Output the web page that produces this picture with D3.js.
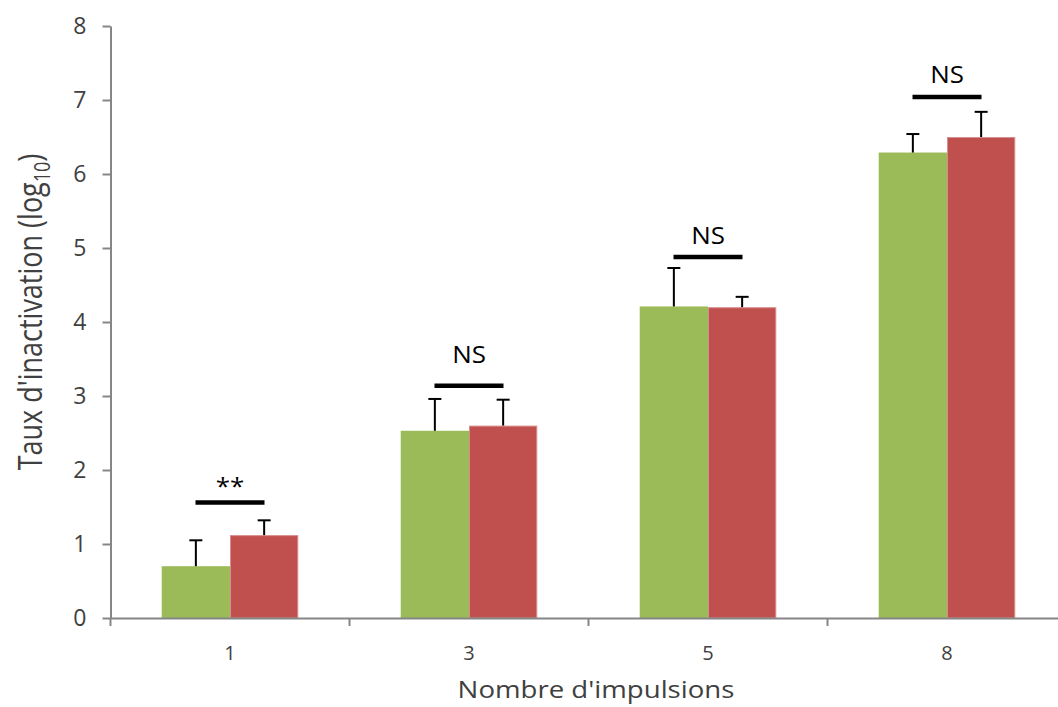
<!DOCTYPE html>
<html>
<head>
<meta charset="utf-8">
<script src="https://cdn.jsdelivr.net/npm/d3@7"></script>
<style>
  html, body { margin: 0; padding: 0; background: #fff; }
  svg { display: block; font-family: "Open Sans", sans-serif; }
</style>
</head>
<body>
<svg id="chart" width="1058" height="707"></svg>
<script>
// Number of pulses (x categories)
const categories = ["1", "3", "5", "8"];
// Inactivation rate (log10), two series
const seriesA = [0.70, 2.53, 4.21, 6.29];
const seriesB = [1.12, 2.60, 4.20, 6.50];
// Upper error bar ends
const errA = [1.05, 2.96, 4.73, 6.54];
const errB = [1.32, 2.95, 4.34, 6.84];
// Significance marks per group: bar level and label baseline level
const sigLabels = ["**", "NS", "NS", "NS"];
const sigLevels = [1.56, 3.14, 4.88, 7.04];
const sigTextLevels = [1.66, 3.44, 5.06, 7.23];
const yTicks = [0, 1, 2, 3, 4, 5, 6, 7, 8];

const colors = ["#9BBB59", "#C0504D"];
const edgeColors = [null, "#D88E8C"];
const textColor = "#404040";
const axisColor = "#868686";

const svg = d3.select("#chart");
const plotL = 110.5, plotR = 1066.5, plotT = 26, plotB = 618;

const x = d3.scaleBand().domain(categories).range([plotL, plotR]).paddingInner(0).paddingOuter(0);
const groupW = x.bandwidth() / 1.75;
const xs = d3.scaleBand().domain([0, 1]).range([0, groupW]);
const y = d3.scaleLinear().domain([0, 8]).range([plotB, plotT]);

const groups = categories.map((c, i) => ({
  c, i,
  vals: [seriesA[i], seriesB[i]],
  errs: [errA[i], errB[i]]
}));

const g = svg.append("g");

groups.forEach(d => {
  const gx = x(d.c) + (x.bandwidth() - groupW) / 2;
  // bars
  d.vals.forEach((v, k) => {
    const r = g.append("rect")
      .attr("x", gx + xs(k))
      .attr("y", y(v))
      .attr("width", xs.bandwidth())
      .attr("height", y(0) - y(v))
      .attr("fill", colors[k]);
    if (edgeColors[k]) {
      r.attr("x", gx + xs(k) + 0.5)
       .attr("y", y(v) + 0.5)
       .attr("width", xs.bandwidth() - 1)
       .attr("height", y(0) - y(v) - 0.5)
       .attr("stroke", edgeColors[k]).attr("stroke-width", 1);
    }
  });
  // error bars (upper only)
  d.errs.forEach((e, k) => {
    const cx = gx + xs(k) + xs.bandwidth() / 2;
    g.append("line")
      .attr("x1", cx).attr("x2", cx)
      .attr("y1", y(d.vals[k])).attr("y2", y(e))
      .attr("stroke", "#000").attr("stroke-width", 2);
    g.append("line")
      .attr("x1", cx - 6.5).attr("x2", cx + 6.5)
      .attr("y1", y(e)).attr("y2", y(e))
      .attr("stroke", "#000").attr("stroke-width", 2);
  });
  // significance bar and label
  const mid = x(d.c) + x.bandwidth() / 2;
  g.append("line")
    .attr("x1", mid - 34.5).attr("x2", mid + 34.5)
    .attr("y1", y(sigLevels[d.i])).attr("y2", y(sigLevels[d.i]))
    .attr("stroke", "#000").attr("stroke-width", 4.5);
  g.append("text")
    .attr("transform", `translate(${mid},${y(sigTextLevels[d.i])}) scale(1.08,1)`)
    .attr("text-anchor", "middle")
    .attr("font-size", 24)
    .attr("fill", "#000")
    .text(sigLabels[d.i]);
});

// Y axis
const yAxis = svg.append("g")
  .attr("transform", `translate(${plotL},0)`)
  .call(d3.axisLeft(y).tickValues(yTicks).tickFormat(d3.format("d")).tickSize(8).tickSizeOuter(0).tickPadding(16));
yAxis.select(".domain").attr("stroke", axisColor).attr("stroke-width", 2);
yAxis.selectAll(".tick line").attr("stroke", axisColor).attr("stroke-width", 2);
yAxis.selectAll(".tick text").attr("fill", textColor).attr("font-size", 23).attr("font-family", "Open Sans, sans-serif");

// X axis
const xAxis = svg.append("g")
  .attr("transform", `translate(0,${plotB})`)
  .call(d3.axisBottom(x).tickSize(0).tickSizeOuter(0).tickPadding(28));
xAxis.select(".domain").attr("stroke", axisColor).attr("stroke-width", 2);
xAxis.selectAll(".tick text").attr("fill", textColor).attr("font-size", 20).attr("font-family", "Open Sans, sans-serif");
// category boundary ticks
xAxis.selectAll(".bound")
  .data(categories.map(c => x(c)).concat([plotR]))
  .enter().append("line")
  .attr("x1", d => d).attr("x2", d => d)
  .attr("y1", 0).attr("y2", 8)
  .attr("stroke", axisColor).attr("stroke-width", 2);

// Axis titles
svg.append("text")
  .attr("transform", "translate(596,698) scale(1.15,1)")
  .attr("text-anchor", "middle")
  .attr("font-size", 24)
  .attr("fill", textColor)
  .text("Nombre d'impulsions");

const yt = svg.append("text")
  .attr("transform", "translate(42,312) rotate(-90) scale(1,1.2)")
  .attr("text-anchor", "middle")
  .attr("font-size", 27)
  .attr("fill", textColor);
yt.append("tspan").text("Taux d'inactivation (log");
yt.append("tspan").attr("font-size", 18).attr("dy", 7).text("10");
yt.append("tspan").attr("dy", -7).text(")");
</script>
</body>
</html>
